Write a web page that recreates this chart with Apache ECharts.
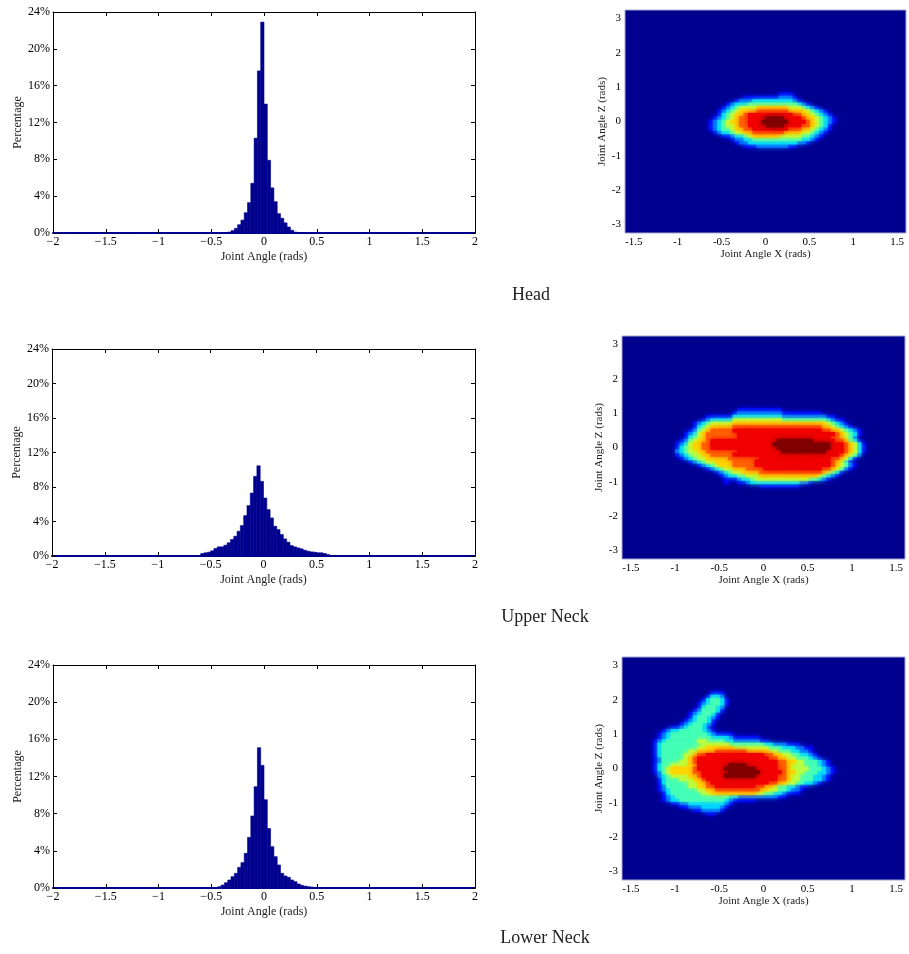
<!DOCTYPE html>
<html><head><meta charset="utf-8">
<script src="https://cdn.jsdelivr.net/npm/echarts@6/dist/echarts.min.js"></script>
<style>html,body{margin:0;padding:0;background:#fff}#c{width:909px;height:954px}</style>
</head><body><div id="c"></div>
<script>
// ---------- histogram data (percent per bin, bins of 1/32 rad) ----------
const BIN_W = 1 / 32;
const histXTicks = [-2, -1.5, -1, -0.5, 0, 0.5, 1, 1.5, 2];
const histYTicks = [0, 4, 8, 12, 16, 20, 24];
const headBinStart = -12;
const headPct = [0.05, 0.1, 0.25, 0.5, 0.9, 1.4, 2.2, 3.3, 5.4, 10.3, 17.6, 22.9, 14.0, 7.9, 4.9, 3.4, 2.1, 1.6, 1.1, 0.65, 0.3, 0.1, 0.03];
const upperBinStart = -19;
const upperPct = [0.29, 0.37, 0.44, 0.6, 0.87, 1.06, 1.06, 1.25, 1.53, 1.91, 2.29, 2.87, 3.53, 4.68, 5.84, 7.3, 9.23, 10.46, 8.65, 6.72, 5.38, 4.41, 3.45, 3.06, 2.49, 1.98, 1.6, 1.21, 1.06, 0.94, 0.83, 0.67, 0.56, 0.48, 0.44, 0.37, 0.37, 0.29, 0.17];
const lowerBinStart = -15;
const lowerPct = [0.05, 0.14, 0.32, 0.57, 0.86, 1.22, 1.58, 2.22, 2.73, 3.73, 5.45, 7.75, 10.9, 15.1, 13.2, 9.5, 6.4, 4.45, 3.37, 2.48, 1.58, 1.29, 1.15, 0.86, 0.68, 0.43, 0.29, 0.2, 0.14, 0.1];

// ---------- 2D density data (levels 0-9, cells 0.05 rad in X, 0.1 rad in Z) ----------
const CELL_X = 0.05, CELL_Z = 0.1;
const heatXTicks = [-1.5, -1, -0.5, 0, 0.5, 1, 1.5];
const heatZTicks = [-3, -2, -1, 0, 1, 2, 3];
const headX0 = -0.65, headZTop = 0.8;
const headRows = [
"00000000000000001110000000000",
"00000000111111112221000000000",
"00000012223333333332100000000",
"00001233344444444444321000000",
"00012345555666666655543210000",
"00123456666777777766665432100",
"00134566788888888887766543210",
"01234567788889999888876654321",
"12345667788899999988887654321",
"12345567788889999888877654310",
"12344566778888888877766543210",
"01233455667777777666655432100",
"00011233456666665555544321000",
"00000122334444444444433210000",
"00000012233333333333221000000",
"00000000111222222211000000000"
];
const upperX0 = -1.05, upperZTop = 1.1;
const upperRows = [
"00000000000000011111111110000000000000000000",
"00000000000000122222222221111111110000000000",
"00000000111111333333333332222222222110000000",
"00000001233333555555555554444444444321100000",
"00000123455555666666666666666666666543210000",
"00000134566666777777777777777777776654321000",
"00001245677777888888888888888888887766543210",
"00012356777777788888888888888888888887654310",
"00013456777777788888888888888888888877654200",
"00124566788888888888888899999999888887764310",
"01235667788888888888888999999999999988876531",
"01345667788888888888888899999999999988876531",
"02345566777777788888888889999999999888876531",
"01234556677777888888888888888888888888765420",
"00123455666667777777888888888888888877653100",
"00001234556666777778888888888888888876531000",
"00000012345666777778888888888888888876542100",
"00000000123455666777788888888888887765421000",
"00000000001234556666777777777777776543100000",
"00000000000123344555666666666666654321000000",
"00000000000011123345555555555554432100000000",
"00000000000010011233333333333221000000000000",
"00000000000000000000111111111000000000000000"
];
const lowerX0 = -1.35, lowerZTop = 2.2;
const lowerRows = [
"00000000000000011100000000000000000000000000",
"00000000000000133200000000000000000000000000",
"00000000000001344310000000000000000000000000",
"00000000000012344310000000000000000000000000",
"00000000000013443200000000000000000000000000",
"00000000000124443100000000000000000000000000",
"00000000001234431000000000000000000000000000",
"00000000001344321000000000000000000000000000",
"00000000012344310000000000000000000000000000",
"00000000123443210000000000000000000000000000",
"00000011234443100000000000000000000000000000",
"00001233444443210000000000000000000000000000",
"00012344444444321111000000000000000000000000",
"00012344444444433332111111000000000000000000",
"00123444444455444433222222110000000000000000",
"00134444444445555554444444433222111000000000",
"00134444444455666666555555554443332211000000",
"00134444445566667777777666665544433221000000",
"00134444455677888888888888877665544332100000",
"00124444456788888888888888887766554443210000",
"00124444556788888888888888888877665544432100",
"00134455556688888889999888888877655544432100",
"00134566666788888899999998888877655554443210",
"00124566666778888889999999888887665544433210",
"00023455556678888899999998888877655444332100",
"00013444555667888888888888888877655444332100",
"00013444445566788888888888887766554433210000",
"00012444445566778888888887766544332110000000",
"00012344444455667777777777665544322100000000",
"00001344444445566666666665544332111000000000",
"00001234444444444443322222222211000000000000",
"00001233444444444432111110000000000000000000",
"00000011223333333321000000000000000000000000",
"00000000112223333210000000000000000000000000",
"00000000000112222100000000000000000000000000",
"00000000000000110000000000000000000000000000"
];

// ---------- build data ----------
function histData(start, pct) {
  return pct.map((v, i) => [(start + i) * BIN_W, (start + i + 1) * BIN_W, v]);
}
function heatData(x0, zTop, rows) {
  const out = [];
  rows.forEach((row, r) => {
    for (let c = 0; c < row.length; c++) {
      const lv = +row[c];
      if (lv > 0) out.push([x0 + (c + 0.5) * CELL_X, zTop - r * CELL_Z, lv]);
    }
  });
  // draw low levels first so higher levels sit on top
  out.sort((a, b) => a[2] - b[2]);
  return out;
}

const FONT = 'Liberation Serif';
const BAR = '#00008F';
const jet = ['#00008F', '#0000FF', '#0080FF', '#00FFFF', '#80FF80', '#FFFF00', '#FF8000', '#FF0000', '#800000'];

const histGrids = [
  {left: 53, top: 12, width: 422, height: 221},
  {left: 52, top: 349, width: 423, height: 207},
  {left: 53, top: 665, width: 422, height: 223}
];
const heatGrids = [
  {left: 625, top: 10, width: 281, height: 223},
  {left: 622, top: 336, width: 283, height: 223},
  {left: 622, top: 657, width: 283, height: 223}
];

const grid = [], xAxis = [], yAxis = [], series = [];
const minus = v => (v < 0 ? '\u2212' + (-v) : '' + v);

histGrids.forEach((g, i) => {
  grid.push(Object.assign({containLabel: false}, g));
  const xi = xAxis.length, yi = yAxis.length;
  xAxis.push({
    gridIndex: i, type: 'value', min: -2, max: 2, interval: 0.5, position: 'bottom',
    axisLine: {show: true, onZero: false, lineStyle: {color: BAR, width: 2}},
    axisTick: {show: true, inside: true, length: 4, lineStyle: {color: '#000', width: 1}},
    axisLabel: {color: '#000', fontFamily: FONT, fontSize: 12, margin: 3, formatter: minus},
    splitLine: {show: false},
    name: 'Joint Angle (rads)', nameLocation: 'middle', nameGap: 18,
    nameTextStyle: {color: '#222', fontFamily: FONT, fontSize: 12}
  });
  xAxis.push({
    gridIndex: i, type: 'value', min: -2, max: 2, interval: 0.5, position: 'top',
    axisLine: {show: true, onZero: false, lineStyle: {color: '#000', width: 1}},
    axisTick: {show: true, inside: true, length: 4, lineStyle: {color: '#000'}},
    axisLabel: {show: false}, splitLine: {show: false}
  });
  yAxis.push({
    gridIndex: i, type: 'value', min: 0, max: 24, interval: 4, position: 'left',
    axisLine: {show: true, onZero: false, lineStyle: {color: '#000', width: 1}},
    axisTick: {show: true, inside: true, length: 4, lineStyle: {color: '#000'}},
    axisLabel: {color: '#000', fontFamily: FONT, fontSize: 12, margin: 3, formatter: '{value}%'},
    splitLine: {show: false},
    name: 'Percentage', nameLocation: 'middle', nameGap: 29,
    nameTextStyle: {color: '#222', fontFamily: FONT, fontSize: 12}
  });
  yAxis.push({
    gridIndex: i, type: 'value', min: 0, max: 24, interval: 4, position: 'right',
    axisLine: {show: true, onZero: false, lineStyle: {color: '#000', width: 1}},
    axisTick: {show: true, inside: true, length: 4, lineStyle: {color: '#000'}},
    axisLabel: {show: false}, splitLine: {show: false}
  });
  const src = [[headBinStart, headPct], [upperBinStart, upperPct], [lowerBinStart, lowerPct]][i];
  series.push({
    type: 'custom', xAxisIndex: xi, yAxisIndex: yi, clip: true,
    encode: {x: [0, 1], y: 2},
    data: histData(src[0], src[1]),
    renderItem: (params, api) => {
      const p0 = api.coord([api.value(0), api.value(2)]);
      const p1 = api.coord([api.value(1), 0]);
      return {type: 'rect', shape: {x: p0[0], y: p0[1], width: p1[0] - p0[0], height: p1[1] - p0[1]},
        style: {fill: BAR, stroke: BAR, lineWidth: 0.6}};
    }
  });
});

heatGrids.forEach((g, j) => {
  const gi = grid.length;
  grid.push(Object.assign({show: true, backgroundColor: '#00008F', borderColor: '#a8a8d0', borderWidth: 1}, g));
  const xi = xAxis.length, yi = yAxis.length;
  xAxis.push({
    gridIndex: gi, type: 'value', min: -1.6, max: 1.6,
    axisLine: {show: false}, axisTick: {show: false}, splitLine: {show: false},
    axisLabel: {customValues: heatXTicks, color: '#000', fontFamily: FONT, fontSize: 11, margin: 4},
    name: 'Joint Angle X (rads)', nameLocation: 'middle', nameGap: 16,
    nameTextStyle: {color: '#222', fontFamily: FONT, fontSize: 11}
  });
  yAxis.push({
    gridIndex: gi, type: 'value', min: -3.25, max: 3.25,
    axisLine: {show: false}, axisTick: {show: false}, splitLine: {show: false},
    axisLabel: {customValues: heatZTicks, color: '#000', fontFamily: FONT, fontSize: 11, margin: 4},
    name: 'Joint Angle Z (rads)', nameLocation: 'middle', nameGap: 14,
    nameTextStyle: {color: '#222', fontFamily: FONT, fontSize: 11}
  });
  const src = [[headX0, headZTop, headRows], [upperX0, upperZTop, upperRows], [lowerX0, lowerZTop, lowerRows]][j];
  series.push({
    type: 'custom', xAxisIndex: xi, yAxisIndex: yi, clip: true,
    encode: {x: 0, y: 1},
    data: heatData(src[0], src[1], src[2]),
    renderItem: (params, api) => {
      const x = api.value(0), z = api.value(1);
      const p0 = api.coord([x - CELL_X / 2, z + CELL_Z / 2]);
      const p1 = api.coord([x + CELL_X / 2, z - CELL_Z / 2]);
      const col = api.visual('color');
      return {type: 'rect', shape: {x: p0[0], y: p0[1], width: p1[0] - p0[0] + 0.6, height: p1[1] - p0[1] + 0.6},
        style: {fill: col, shadowBlur: 5, shadowColor: col}};
    }
  });
});

const titles = [['Head', 531, 295], ['Upper Neck', 545, 617], ['Lower Neck', 545, 938]];
const chart = echarts.init(document.getElementById('c'), null, {renderer: 'canvas'});
chart.setOption({
  backgroundColor: '#fff',
  animation: false,
  grid, xAxis, yAxis, series,
  visualMap: {type: 'continuous', show: false, min: 0, max: 9, dimension: 2, seriesIndex: [3, 4, 5], inRange: {color: jet}},
  graphic: titles.map(t => ({type: 'text', x: t[1], y: t[2],
    style: {text: t[0], fill: '#222', font: '18px "Liberation Serif"', align: 'center', verticalAlign: 'middle'}}))
});
</script></body></html>
